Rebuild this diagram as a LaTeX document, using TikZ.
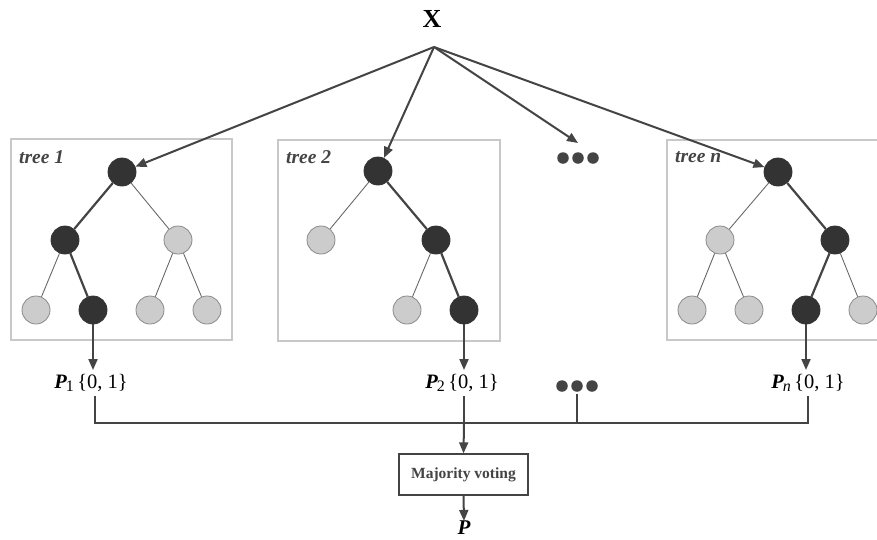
\documentclass[tikz,border=0pt]{standalone}
\usepackage{fontspec}
\setmainfont{Liberation Serif}
\usetikzlibrary{arrows.meta}
\definecolor{dk}{HTML}{333333}
\definecolor{ln}{HTML}{444444}
\definecolor{lt}{HTML}{CCCCCC}
\definecolor{ltb}{HTML}{8A8A8A}
\definecolor{bx}{HTML}{C8C8C8}
\tikzset{
  dnode/.style={circle,fill=dk,draw=dk,line width=0.8pt,minimum size=28pt,inner sep=0pt},
  lnode/.style={circle,fill=lt,draw=ltb,line width=0.8pt,minimum size=28pt,inner sep=0pt},
  thick edge/.style={draw=ln,line width=2.2pt},
  thin edge/.style={draw=ln!80,line width=0.9pt},
  treebox/.style={draw=bx,line width=1.3pt},
  treelabel/.style={font=\fontsize{19.5}{21}\selectfont\bfseries\itshape,text=ln,anchor=west,inner sep=0pt},
  arr/.style={draw=ln,line width=2pt,-{Triangle[length=11pt,width=9pt]}},
  bus/.style={draw=ln,line width=2pt},
  plabel/.style={font=\fontsize{20.5}{22}\selectfont,inner sep=1pt},
  dotc/.style={circle,fill=ln,inner sep=0pt,minimum size=11.5pt}
}
\newcommand{\Plab}[1]{{\bfseries\itshape P}\hspace{-1pt}\raisebox{-0.35ex}{\fontsize{16}{17}\selectfont#1}\,\{0, 1\}}
\begin{document}
\begin{tikzpicture}[x=1pt,y=-1pt]
\clip (0,0) rectangle (877,539);
\fill[white] (0,0) rectangle (877,539);
% boxes
\draw[treebox] (11,139) rectangle (232,340);
\draw[treebox] (278,140) rectangle (500,341);
\draw[treebox] (667,140) rectangle (900,340);
\node[treelabel] (t1) at (19,157) {tree 1};
\node[treelabel] (t2) at (286,157) {tree 2};
\node[treelabel] (tn) at (675,157) {tree n};
% X
\node[font=\fontsize{26}{28}\selectfont\bfseries,inner sep=0pt] (X) at (432,19) {X};
\coordinate (apex) at (434,47);
% tree 1
\node[dnode] (r1) at (122,172) {};
\node[dnode] (a1) at (65,240) {};
\node[lnode] (b1) at (178,240) {};
\node[lnode] (c1) at (36,310) {};
\node[dnode] (d1) at (93,310) {};
\node[lnode] (e1) at (150,310) {};
\node[lnode] (f1) at (207,310) {};
% tree 2
\node[dnode] (r2) at (378,171) {};
\node[lnode] (a2) at (321,240) {};
\node[dnode] (b2) at (436,240) {};
\node[lnode] (c2) at (407,310) {};
\node[dnode] (d2) at (464,310) {};
% tree n
\node[dnode] (rn) at (778,172) {};
\node[lnode] (an) at (720,240) {};
\node[dnode] (bn) at (835,240) {};
\node[lnode] (cn) at (692,310) {};
\node[lnode] (dn) at (749,310) {};
\node[dnode] (en) at (806,310) {};
\node[lnode] (fn) at (863,310) {};
% edges
\path[thick edge] (r1) -- (a1);
\path[thin edge] (r1) -- (b1);
\path[thin edge] (a1) -- (c1);
\path[thick edge] (a1) -- (d1);
\path[thin edge] (b1) -- (e1);
\path[thin edge] (b1) -- (f1);
\path[thin edge] (r2) -- (a2);
\path[thick edge] (r2) -- (b2);
\path[thin edge] (b2) -- (c2);
\path[thick edge] (b2) -- (d2);
\path[thin edge] (rn) -- (an);
\path[thick edge] (rn) -- (bn);
\path[thin edge] (an) -- (cn);
\path[thin edge] (an) -- (dn);
\path[thick edge] (bn) -- (en);
\path[thin edge] (bn) -- (fn);
% dots
\node[dotc] (dt1) at (563,158) {};
\node[dotc] (dt2) at (578,158) {};
\node[dotc] (dt3) at (593,158) {};
\coordinate (dtarget) at (578,143);
% arrows from X
\draw[arr] (apex) -- (r1);
\draw[arr] (apex) -- (r2);
\draw[arr] (apex) -- (dtarget);
\draw[arr] (apex) -- (rn);
% P labels
\node[plabel] (p1) at (91,383) {\Plab{1}};
\node[plabel] (p2) at (462,383) {\Plab{2}};
\node[plabel] (pn) at (808,383) {\Plab{\itshape n}};
\node[dotc] (q1) at (562,386) {};
\node[dotc] (q2) at (577,386) {};
\node[dotc] (q3) at (592,386) {};
\draw[arr] (d1.south) -- (d1.south |- 0,370);
\draw[arr] (d2.south) -- (d2.south |- 0,370);
\draw[arr] (en.south) -- (en.south |- 0,370);
% bus
\coordinate (b1c) at (95,423);
\coordinate (b2c) at (464,423);
\coordinate (b3c) at (577,423);
\coordinate (bnc) at (808,423);
\draw[bus] (95,396) -- (b1c) -- (bnc) -- (808,396);
\draw[bus] (q2) ++(0,8) -- (b3c);
\draw[bus] (464,396) -- (b2c);
% majority
\node[draw=ln,line width=1.3pt,minimum width=129pt,minimum height=41pt,inner sep=0pt,
  font=\fontsize{15.5}{17}\selectfont\bfseries,text=ln] (mv) at (463.5,474.5) {Majority voting};
\draw[arr] (b2c) -- (mv.north);
\node[font=\fontsize{21}{22}\selectfont\bfseries\itshape,inner sep=0pt] (P) at (464,528) {P};
\draw[arr] (mv.south) -- (P.north);
\end{tikzpicture}
\end{document}
